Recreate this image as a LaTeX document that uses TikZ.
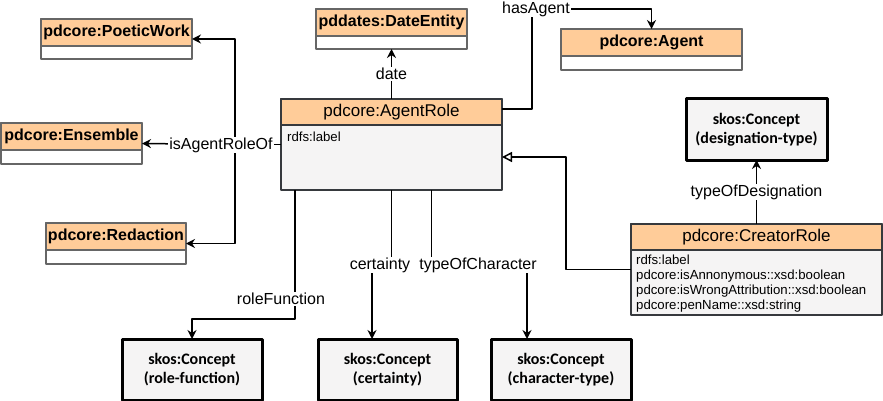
\documentclass[tikz,border=0pt]{standalone}
\usepackage{fontspec}
\setmainfont{Liberation Sans}
\newfontfamily\calib{Carlito}
\usetikzlibrary{arrows.meta}
\definecolor{hdrorange}{HTML}{FFCC99}
\definecolor{boxgray}{HTML}{666666}
\definecolor{darkline}{HTML}{36393D}
\definecolor{paleback}{HTML}{F5F4F4}
\begin{document}
\begin{tikzpicture}[x=1pt,y=-1pt,line join=round,>={Stealth[length=9pt,width=9pt]},
	clsbody/.style={draw=boxgray,line width=1.5pt,fill=white,anchor=north west,inner sep=0pt,outer sep=0pt},
	clshead/.style={draw=boxgray,line width=1.5pt,fill=hdrorange,anchor=north,minimum height=27pt,inner sep=0pt,outer sep=0pt,font=\fontsize{16}{18}\selectfont\bfseries},
	rolebody/.style={draw=darkline,line width=2.5pt,fill=paleback,anchor=north west,inner sep=0pt,outer sep=0pt},
	rolehead/.style={draw=darkline,line width=2.5pt,fill=hdrorange,anchor=north,minimum height=26pt,inner sep=0pt,outer sep=0pt,font=\fontsize{17}{19}\selectfont},
	attr/.style={anchor=north west,align=left,inner sep=0pt,font=\fontsize{13.2}{15}\selectfont},
	concept/.style={draw=black,line width=3pt,fill=paleback,anchor=north west,inner sep=0pt,outer sep=0pt,align=center,font=\calib\bfseries\fontsize{16}{19}\selectfont},
	lbl/.style={fill=white,inner sep=1pt,font=\fontsize{16}{18}\selectfont},
	link/.style={line width=1.5pt,->}]
	\useasboundingbox (0,0) rectangle (883,401);
	% Các lớp nhỏ (tên, góc, rộng, cao, nhãn)
	\foreach \nm/\xa/\ya/\bw/\bh/\tx in {poetic/41/19/151/40/pdcore:PoeticWork,
		ensemble/1/123/141/41/pdcore:Ensemble,
		redaction/46/223/140/41/pdcore:Redaction,
		dateent/316/9/151/40/pddates:DateEntity,
		agent/561/29/181/41/pdcore:Agent}{
		\node[clsbody,minimum width=\bw pt,minimum height=\bh pt] (\nm) at (\xa,\ya) {};
		\node[clshead,minimum width=\bw pt] (\nm-h) at (\nm.north) {\tx};
	}
	% AgentRole và CreatorRole
	\node[rolebody,minimum width=221pt,minimum height=91pt] (agentrole) at (281,99) {};
	\node[rolehead,minimum width=221pt] (agentrole-h) at (agentrole.north) {pdcore:AgentRole};
	\node[attr] (agentrole-a) at (287,132) {rdfs:label};
	\node[rolebody,minimum width=251pt,minimum height=91pt] (creator) at (631,224) {};
	\node[rolehead,minimum width=251pt] (creator-h) at (creator.north) {pdcore:CreatorRole};
	\node[attr] (creator-a) at (636,255) {rdfs:label\\pdcore:isAnnonymous::xsd:boolean\\pdcore:isWrongAttribution::xsd:boolean\\pdcore:penName::xsd:string};
	% Các khái niệm skos
	\foreach \nm/\xa/\ya/\bw/\tx in {desig/686/99/141/{skos:Concept\\(designation-type)},
		rolefunc/122/339/140/{skos:Concept\\(role-function)},
		certainty/318/339/139/{skos:Concept\\(certainty)},
		chartype/491/339/140/{skos:Concept\\(character-type)}}{
		\node[concept,minimum width=\bw pt,minimum height=61pt] (\nm) at (\xa,\ya) {\tx};
	}
	% isAgentRoleOf
	\path (agentrole.west) ++(-46,0) coordinate (split);
	\draw[line width=1.5pt] (agentrole.west) -- (split);
	\draw[link] (split) |- (poetic.east);
	\draw[link] (split) -- (ensemble.east);
	\draw[link] (split) |- (redaction.east);
	\node[lbl] (isrole) at (221,145) {isAgentRoleOf};
	% date, hasAgent
	\draw[link] (agentrole.north) -- (dateent.south) node[lbl,midway] (datelbl) {date};
	\coordinate (hasbend) at (532,9);
	\draw[link] ([yshift=3pt]agentrole-h.east) -| (hasbend) -| (agent.north);
	\node[lbl] (haslbl) at (536,9) {hasAgent};
	% kế thừa
	\coordinate (genbend) at (566,157);
	\draw[line width=1.5pt,-{Triangle[open,length=10pt,width=10pt]}] (creator.west) -| (genbend) -- (genbend -| agentrole.east);
	\draw[link] (creator.north) -- (desig.south) node[lbl,midway] (desiglbl) {typeOfDesignation};
	% các thuộc tính xuống dưới
	\draw[link] (agentrole.south -| 295,0) |- (rolefunc.north |- 0,319) -- (rolefunc.north);
	\node[lbl] (rflbl) at (281,299) {roleFunction};
	\draw[link] (agentrole.south -| 391.5,0) -- (391.5,265) -- (372,265) -- (certainty.north -| 372,0);
	\draw[link] (agentrole.south -| 431.5,0) -- (431.5,265) -- (527,265) -- (chartype.north -| 527,0);
	\node[lbl] (certlbl) at (380,265) {certainty};
	\node[lbl] (charlbl) at (478,265) {typeOfCharacter};
\end{tikzpicture}
\end{document}
